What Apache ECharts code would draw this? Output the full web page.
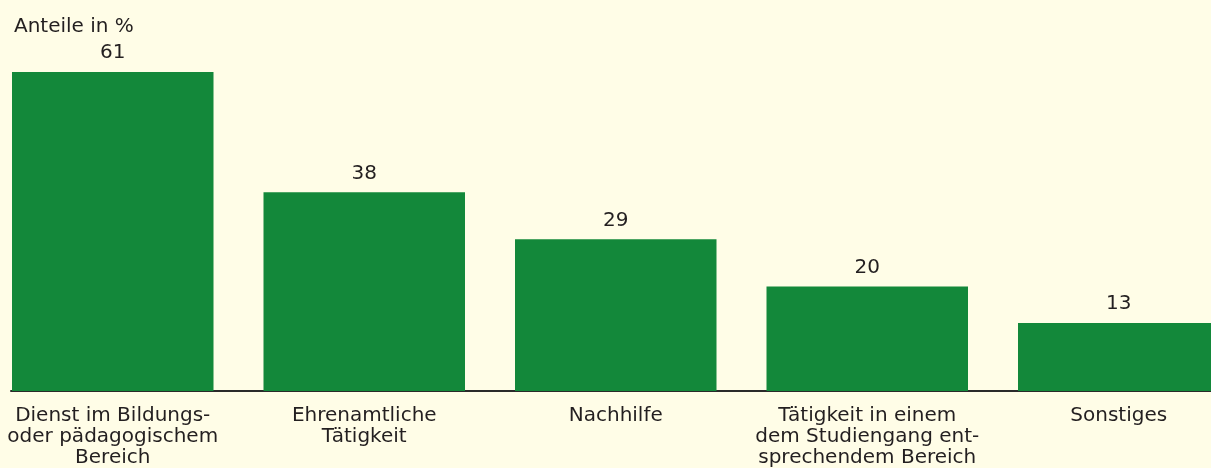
<!DOCTYPE html>
<html>
<head>
<meta charset="utf-8">
<script src="https://cdn.jsdelivr.net/npm/echarts@6/dist/echarts.min.js"></script>
<style>
  html, body { margin: 0; padding: 0; background: #FFFDE7; }
  #chart { width: 1211px; height: 468px; }
</style>
</head>
<body>
<div id="chart"></div>
<script>
  // Kategorien und Anteile in %
  const categories = [
    "Dienst im Bildungs-\noder pädagogischem\nBereich",
    "Ehrenamtliche\nTätigkeit",
    "Nachhilfe",
    "Tätigkeit in einem\ndem Studiengang ent-\nsprechendem Bereich",
    "Sonstiges"
  ];
  const values = [61, 38, 29, 20, 13];

  const textColor = "#231F20";
  const font = "DejaVu Sans";

  const myChart = echarts.init(document.getElementById("chart"));

  const option = {
    backgroundColor: "#FFFDE7",
    animation: false,
    title: {
      text: "Anteile in %",
      left: 9,
      top: 12,
      textStyle: { fontFamily: font, fontSize: 20, fontWeight: "normal", color: textColor }
    },
    grid: [
      // Balken (Kategorien 251.5px breit, rechts abgeschnitten)
      { left: -13, width: 1257.5, top: 25, bottom: 77, outerBoundsMode: "none", containLabel: false },
      // nur fuer die Grundlinie
      { left: 11, right: 0, top: 25, bottom: 77, outerBoundsMode: "none", containLabel: false }
    ],
    xAxis: [
      {
        type: "category",
        gridIndex: 0,
        data: categories,
        axisLine: { show: false },
        axisTick: { show: false },
        axisLabel: {
          interval: 0,
          margin: 14,
          fontFamily: font,
          fontSize: 20,
          lineHeight: 21,
          color: textColor
        }
      },
      {
        type: "value",
        gridIndex: 1,
        min: 0,
        max: 1,
        axisLine: { show: true, onZero: false, lineStyle: { color: "#2a2a2a", width: 2 } },
        axisTick: { show: false },
        axisLabel: { show: false },
        splitLine: { show: false }
      }
    ],
    yAxis: [
      { type: "value", gridIndex: 0, min: 0, max: 70, show: false },
      { type: "value", gridIndex: 1, min: 0, max: 70, show: false }
    ],
    series: [
      {
        type: "bar",
        xAxisIndex: 0,
        yAxisIndex: 0,
        data: values,
        barWidth: 201.5,
        itemStyle: { color: "#13883A" },
        label: {
          show: true,
          position: "top",
          distance: 9,
          fontFamily: font,
          fontSize: 20,
          color: textColor
        }
      }
    ]
  };

  myChart.setOption(option);
</script>
</body>
</html>
